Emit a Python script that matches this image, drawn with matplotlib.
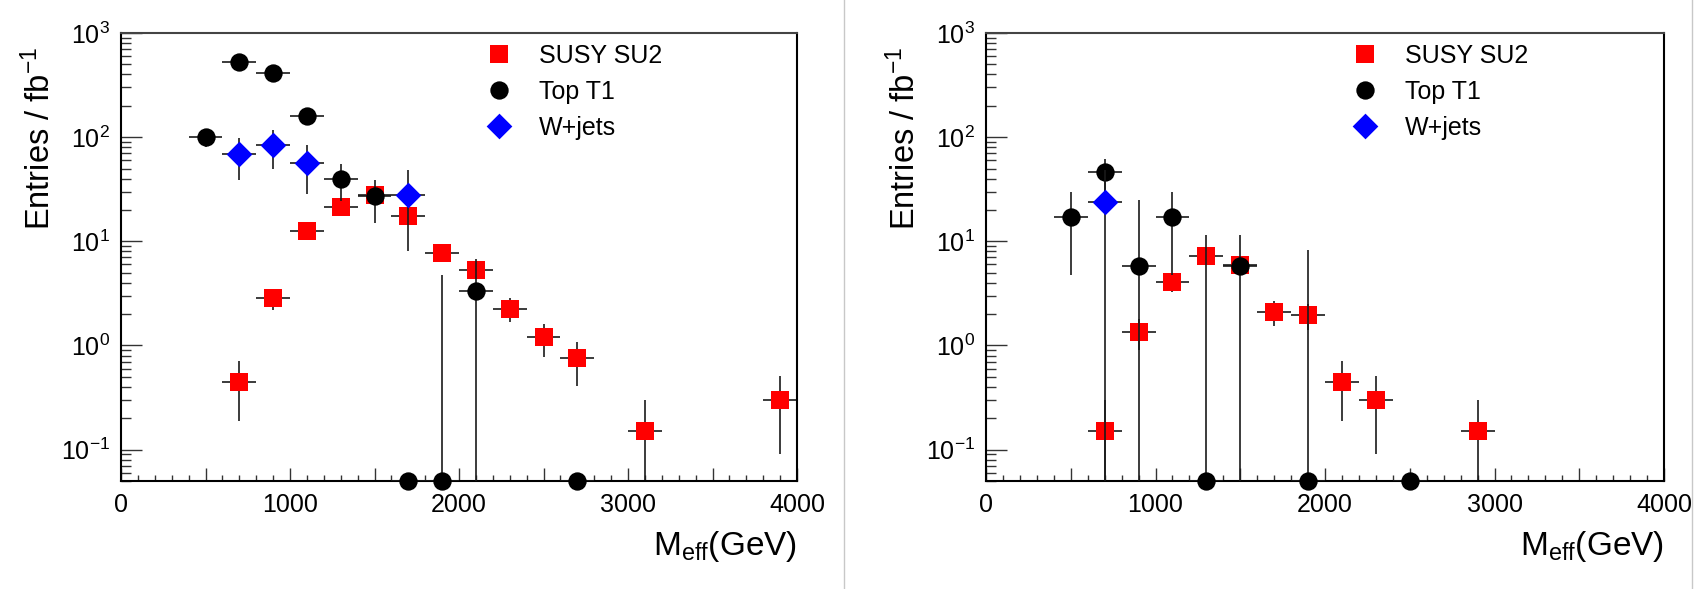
import numpy as np
import matplotlib
matplotlib.use("Agg")
import matplotlib.pyplot as plt
from matplotlib.lines import Line2D
from matplotlib.ticker import MultipleLocator, LogLocator, FuncFormatter, NullFormatter

plt.rcParams["font.family"] = ["Liberation Sans", "DejaVu Sans"]
plt.rcParams["mathtext.fontset"] = "custom"
plt.rcParams["mathtext.rm"] = "Liberation Sans"
plt.rcParams["mathtext.it"] = "Liberation Sans:italic"
plt.rcParams["mathtext.bf"] = "Liberation Sans:bold"

# Meff bins are 200 GeV wide, x values are bin centres
bin_half = 100
y_floor = 0.05

# left: selection 1
susy_x_1 = [700, 900, 1100, 1300, 1500, 1700, 1900, 2100, 2300, 2500, 2700, 3100, 3900]
susy_y_1 = [0.45, 2.85, 12.5, 21.5, 28.0, 17.5, 7.8, 5.25, 2.25, 1.2, 0.75, 0.15, 0.30]
susy_e_1 = [0.26, 0.65, 1.4, 1.8, 2.0, 1.6, 1.05, 0.9, 0.58, 0.42, 0.34, 0.15, 0.21]

top_x_1 = [500, 700, 900, 1100, 1300, 1500, 1700, 1900, 2100, 2700]
top_y_1 = [100, 530, 410, 160, 40, 27, 0, 0, 3.3, 0]
top_e_1 = [20, 55, 49, 30, 15.5, 12, 0, 4.7, 3.4, 0]

wjets_x_1 = [700, 900, 1100, 1700]
wjets_y_1 = [69, 84, 56, 28]
wjets_e_1 = [30, 34, 27.5, 20]

# right: selection 2
susy_x_2 = [700, 900, 1100, 1300, 1500, 1700, 1900, 2100, 2300, 2900]
susy_y_2 = [0.15, 1.35, 4.05, 7.2, 5.9, 2.1, 1.95, 0.45, 0.30, 0.15]
susy_e_2 = [0.15, 0.45, 0.78, 1.04, 0.94, 0.56, 0.54, 0.26, 0.21, 0.15]

top_x_2 = [500, 700, 900, 1100, 1300, 1500, 1900, 2500]
top_y_2 = [17.3, 46, 5.8, 17.3, 0, 5.8, 0, 0]
top_e_2 = [12.6, 15.5, 19, 12.6, 11.6, 5.8, 8.2, 0]

wjets_x_2 = [700]
wjets_y_2 = [24]
wjets_e_2 = [24]

labels = ["SUSY SU2", "Top T1", "W+jets"]
diamond = [(0, 1), (1, 0), (0, -1), (-1, 0), (0, 1)]
styles = [
    dict(marker="s", color="#ff0000", ms=13.2),
    dict(marker="o", color="black", ms=13.2),
    dict(marker=diamond, color="#0000ff", ms=18.5),
]


def draw_hist(ax, x, y, e, style, label, z):
    x = np.asarray(x, float)
    y = np.asarray(y, float)
    e = np.asarray(e, float)
    # empty bins sit on the bottom of the frame
    yp = np.maximum(y, y_floor)
    lo = np.maximum(yp - np.maximum(y - e, 1e-4), 0)
    hi = np.maximum((y + e) - yp, 0)
    ax.errorbar(x, yp, xerr=bin_half, yerr=[lo, hi], fmt="none",
                ecolor="#1a1a1a", elinewidth=1.2, capsize=0, zorder=z)
    ax.plot(x, yp, ls="none", marker=style["marker"], color=style["color"],
            ms=style["ms"], mew=0, label=label, zorder=z + 0.5, clip_on=False)


def style_axes(ax):
    ax.set_yscale("log")
    ax.set_xlim(0, 4000)
    ax.set_ylim(y_floor, 1000)
    ax.xaxis.set_major_locator(MultipleLocator(500))
    ax.xaxis.set_minor_locator(MultipleLocator(100))
    ax.xaxis.set_major_formatter(FuncFormatter(
        lambda v, p: "%d" % v if abs(v % 1000) < 1e-6 else ""))
    ax.yaxis.set_major_locator(LogLocator(base=10))
    ax.yaxis.set_minor_locator(LogLocator(base=10, subs=np.arange(2, 10)))
    ax.yaxis.set_minor_formatter(NullFormatter())
    ax.tick_params(axis="both", which="both", direction="in", top=False, right=False,
                   labelsize=18, width=1.0, color="#333333")
    ax.tick_params(axis="x", which="major", length=9.5, pad=9)
    ax.tick_params(axis="x", which="minor", length=4.5)
    ax.tick_params(axis="y", which="major", length=15, pad=8)
    ax.tick_params(axis="y", which="minor", length=7.5)
    for s in ax.spines.values():
        s.set_linewidth(1.5)
    ax.spines["top"].set_color("#444444")
    ax.set_xlabel(r"M$_{\rm eff}$(GeV)", fontsize=24, loc="right")
    ax.xaxis.set_label_coords(1.0, -0.108)
    ax.set_ylabel(r"Entries / fb$^{-1}$", fontsize=23.5, loc="top")
    ax.yaxis.set_label_coords(-0.094, 0.97)
    ax.legend(loc="upper left", bbox_to_anchor=(0.541, 0.975), frameon=False,
              fontsize=18, handlelength=1.0, handletextpad=1.1, labelspacing=0.47,
              borderpad=0, borderaxespad=0, numpoints=1)


fig = plt.figure(figsize=(16.96, 5.89), dpi=100)
ax1 = fig.add_axes([121 / 1696, 108 / 589, 676 / 1696, 448 / 589])
ax2 = fig.add_axes([986 / 1696, 108 / 589, 678 / 1696, 448 / 589])

sets = [
    (ax1, [(susy_x_1, susy_y_1, susy_e_1), (top_x_1, top_y_1, top_e_1),
           (wjets_x_1, wjets_y_1, wjets_e_1)]),
    (ax2, [(susy_x_2, susy_y_2, susy_e_2), (top_x_2, top_y_2, top_e_2),
           (wjets_x_2, wjets_y_2, wjets_e_2)]),
]
for ax, series in sets:
    for i, (x, y, e) in enumerate(series):
        draw_hist(ax, x, y, e, styles[i], labels[i], 2 + i)
    style_axes(ax)

# thin grey dividers between the two pads
for xf in (844 / 1696, 1692 / 1696):
    fig.add_artist(Line2D([xf, xf], [0, 1], transform=fig.transFigure,
                          color="#c8c8c8", lw=1.0))

fig.savefig("out.png", dpi=100)
